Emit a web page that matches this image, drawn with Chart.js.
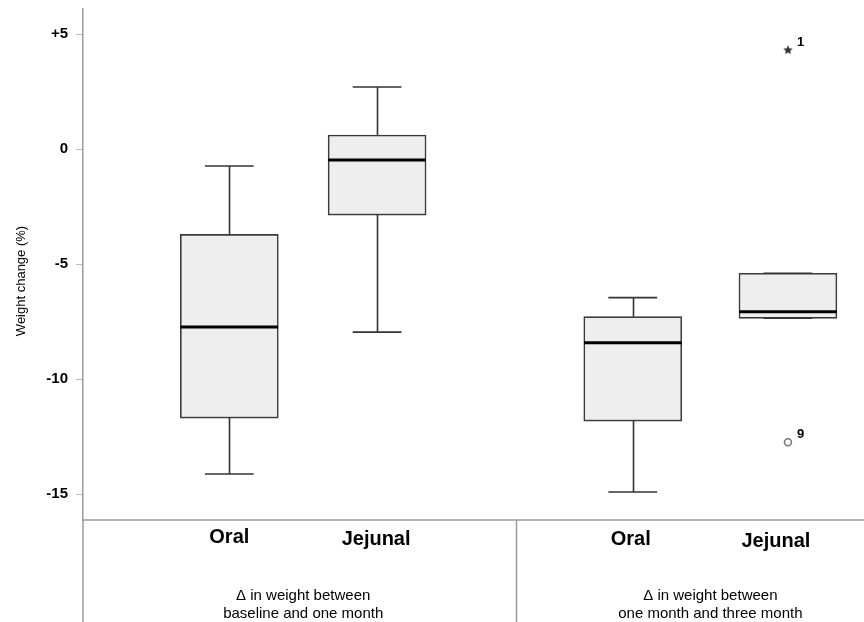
<!DOCTYPE html>
<html>
<head>
<meta charset="utf-8">
<title>Weight change box plot</title>
<script src="https://cdn.jsdelivr.net/npm/chart.js@4.4.1/dist/chart.umd.min.js"></script>
<style>
    html, body { margin: 0; padding: 0; background: #ffffff; }
    #wrap { width: 864px; height: 622px; position: relative; }
</style>
</head>
<body>
<div id="wrap"><canvas id="boxChart"></canvas></div>
<script>
// Box plot data (weight change in %)
const categories = ['Oral', 'Jejunal', 'Oral', 'Jejunal'];
const groupLabels = [
    ['\u0394 in weight between', 'baseline and one month'],
    ['\u0394 in weight between', 'one month and three month']
];
const whiskerLow  = [-14.13, -7.96, -14.91, -7.36];
const quartile1   = [-11.70, -2.87, -11.83, -7.36];
const medians     = [-7.74, -0.48, -8.42, -7.07];
const quartile3   = [-3.71, 0.61, -7.29, -5.40];
const whiskerHigh = [-0.74, 2.70, -6.46, -5.40];

// Outliers: which box they belong to, value and case number
const outlierBox   = [3, 3];
const outlierValue = [4.30, -12.75];
const outlierCase  = ['1', '9'];
const outlierKind  = ['extreme', 'mild'];

const yTicks = [-15, -10, -5, 0, 5];

// Layout: slot of each box on the x scale, group membership
const slots = [1, 2, 3.73, 4.78];
const groupOf = [0, 0, 1, 1];
const dividerSlot = 2.94;
const boxHalf = 0.33;
const capHalf = 0.165;
const labelNudge = [0, -1, -2, -12];
const labelBaseline = [543, 545, 545, 547];

const FONT = '"Liberation Sans", Arial, Helvetica, sans-serif';

// Small filled star used for the extreme outlier
function makeStar(size, color) {
    const c = document.createElement('canvas');
    c.width = size; c.height = size;
    const g = c.getContext('2d');
    const cx = size / 2, cy = size / 2, ro = size / 2, ri = ro * 0.45;
    g.beginPath();
    for (let i = 0; i < 10; i++) {
        const r = i % 2 === 0 ? ro : ri;
        const a = -Math.PI / 2 + i * Math.PI / 5;
        const px = cx + r * Math.cos(a), py = cy + r * Math.sin(a);
        if (i === 0) g.moveTo(px, py); else g.lineTo(px, py);
    }
    g.closePath();
    g.fillStyle = color;
    g.fill();
    return c;
}
const starImg = makeStar(10, '#333333');

const boxData = categories.map((c, i) => ({ x: slots[i], y: [quartile1[i], quartile3[i]] }));
const outlierData = outlierValue.map((v, i) => ({ x: slots[outlierBox[i]], y: v }));

// Whiskers, caps, medians, outlier numbers, and the table below the plot
const boxPlotExtras = {
    id: 'boxPlotExtras',
    afterDatasetsDraw(chart) {
        const { ctx, scales: { x, y } } = chart;
        ctx.save();
        ctx.lineCap = 'butt';
        for (let i = 0; i < categories.length; i++) {
            const cx = Math.round(x.getPixelForValue(slots[i])) + 0.5;
            const capL = x.getPixelForValue(slots[i] - capHalf);
            const capR = x.getPixelForValue(slots[i] + capHalf);
            ctx.strokeStyle = '#333333';
            ctx.lineWidth = 1.6;
            // upper whisker
            ctx.beginPath();
            ctx.moveTo(cx, y.getPixelForValue(quartile3[i]));
            ctx.lineTo(cx, y.getPixelForValue(whiskerHigh[i]));
            ctx.moveTo(capL, y.getPixelForValue(whiskerHigh[i]));
            ctx.lineTo(capR, y.getPixelForValue(whiskerHigh[i]));
            // lower whisker
            ctx.moveTo(cx, y.getPixelForValue(quartile1[i]));
            ctx.lineTo(cx, y.getPixelForValue(whiskerLow[i]));
            ctx.moveTo(capL, y.getPixelForValue(whiskerLow[i]));
            ctx.lineTo(capR, y.getPixelForValue(whiskerLow[i]));
            ctx.stroke();
            // median
            ctx.strokeStyle = '#000000';
            ctx.lineWidth = 3;
            ctx.beginPath();
            ctx.moveTo(x.getPixelForValue(slots[i] - boxHalf), y.getPixelForValue(medians[i]));
            ctx.lineTo(x.getPixelForValue(slots[i] + boxHalf), y.getPixelForValue(medians[i]));
            ctx.stroke();
        }
        // case numbers next to outliers
        const meta = chart.getDatasetMeta(1);
        ctx.fillStyle = '#000000';
        ctx.font = 'bold 13px ' + FONT;
        ctx.textAlign = 'left';
        ctx.textBaseline = 'middle';
        meta.data.forEach((pt, i) => {
            ctx.fillText(outlierCase[i], pt.x + 9, pt.y - 8);
        });
        ctx.restore();
    },
    afterDraw(chart) {
        const { ctx, chartArea, scales: { x } } = chart;
        const h = chart.height, w = chart.width;
        ctx.save();
        ctx.strokeStyle = '#9a9a9a';
        ctx.lineWidth = 1.5;
        const divX = Math.round(x.getPixelForValue(dividerSlot)) + 0.5;
        ctx.beginPath();
        ctx.moveTo(chartArea.left, chartArea.bottom);
        ctx.lineTo(w, chartArea.bottom);
        ctx.moveTo(chartArea.left, chartArea.bottom);
        ctx.lineTo(chartArea.left, h);
        ctx.moveTo(divX, chartArea.bottom);
        ctx.lineTo(divX, h);
        ctx.stroke();

        // category labels
        ctx.fillStyle = '#000000';
        ctx.textAlign = 'center';
        ctx.textBaseline = 'alphabetic';
        ctx.font = 'bold 20px ' + FONT;
        categories.forEach((c, i) => {
            ctx.fillText(c, x.getPixelForValue(slots[i]) + labelNudge[i], labelBaseline[i]);
        });

        // group labels, centred under their two boxes
        ctx.font = '15px ' + FONT;
        groupLabels.forEach((lines, g) => {
            const idx = groupOf.map((v, i) => v === g ? i : -1).filter(i => i >= 0);
            const cx = (x.getPixelForValue(slots[idx[0]]) + x.getPixelForValue(slots[idx[idx.length - 1]])) / 2;
            lines.forEach((t, k) => ctx.fillText(t, cx, 600 + k * 17.5));
        });

        // y axis title
        ctx.font = '13px ' + FONT;
        ctx.translate(21, 281);
        ctx.rotate(-Math.PI / 2);
        ctx.textBaseline = 'middle';
        ctx.fillText('Weight change (%)', 0, 0);
        ctx.restore();
    }
};

new Chart(document.getElementById('boxChart'), {
    type: 'bar',
    data: {
        datasets: [{
            label: 'Box',
            data: boxData,
            backgroundColor: '#eeeeee',
            borderColor: '#3a3a3a',
            borderWidth: 1.6,
            borderSkipped: false,
            barThickness: 98
        }, {
            type: 'scatter',
            label: 'Outliers',
            data: outlierData,
            pointStyle: outlierKind.map(k => k === 'extreme' ? starImg : 'circle'),
            pointRadius: outlierKind.map(k => k === 'extreme' ? 5 : 3.5),
            backgroundColor: '#ffffff',
            borderColor: '#7a7a7a',
            borderWidth: 1.6
        }]
    },
    options: {
        responsive: true,
        maintainAspectRatio: false,
        animation: false,
        devicePixelRatio: 1,
        layout: { padding: { top: 9, right: 0, bottom: 102, left: 0 } },
        plugins: {
            legend: { display: false },
            tooltip: { enabled: false }
        },
        scales: {
            x: {
                type: 'linear',
                display: false,
                offset: false,
                min: 0.01,
                max: 5.25
            },
            y: {
                min: -16.13,
                max: 6.09,
                afterFit(scale) {
                    scale.width = 83;
                    scale.paddingTop = 0;
                    scale.paddingBottom = 0;
                },
                afterBuildTicks(scale) { scale.ticks = yTicks.map(v => ({ value: v })); },
                ticks: {
                    padding: 8,
                    color: '#000000',
                    font: { family: FONT, size: 15, weight: 'bold' },
                    callback: v => (v > 0 ? '+' + v : String(v))
                },
                grid: {
                    drawOnChartArea: false,
                    drawTicks: true,
                    tickLength: 7,
                    tickColor: '#bbbbbb'
                },
                border: { display: true, color: '#9a9a9a', width: 1.5 }
            }
        }
    },
    plugins: [boxPlotExtras]
});
</script>
</body>
</html>
